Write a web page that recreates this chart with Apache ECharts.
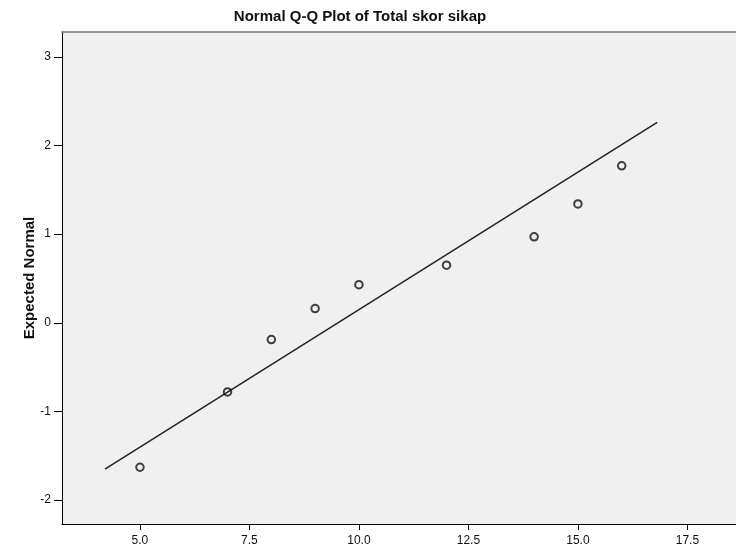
<!DOCTYPE html>
<html>
<head>
<meta charset="utf-8">
<script src="https://cdn.jsdelivr.net/npm/echarts@6/dist/echarts.min.js"></script>
<style>html,body{margin:0;padding:0;background:#fff;}#c{width:736px;height:551px;}</style>
</head>
<body>
<div id="c"></div>
<script>
const chartTitle = 'Normal Q-Q Plot of Total skor sikap';
const yAxisName = 'Expected Normal';
const observedValues = [5, 7, 8, 9, 10, 12, 14, 15, 16];
const expectedNormal = [-1.63, -0.78, -0.19, 0.16, 0.43, 0.65, 0.97, 1.34, 1.77];
const refLineX = [4.2, 16.81];
const refLineY = [-1.65, 2.26];
const xTicks = [5, 7.5, 10, 12.5, 15, 17.5];
const yTicks = [-2, -1, 0, 1, 2, 3];

const chart = echarts.init(document.getElementById('c'));
const font = 'Arial, "Liberation Sans", sans-serif';
const xMin = 3.22, xMax = 18.61;
chart.setOption({
  backgroundColor: '#fff',
  animation: false,
  title: {
    text: chartTitle,
    left: 355, textAlign: 'center', top: 4,
    textStyle: { fontFamily: font, fontSize: 15, fontWeight: 'bold', color: '#111' }
  },
  grid: {
    left: 62, right: 0, top: 32, bottom: 27,
    show: true, backgroundColor: '#f0f0f0', borderWidth: 0
  },
  xAxis: [{
    type: 'value', min: xMin, max: xMax, position: 'bottom',
    axisLine: { show: true, onZero: false, lineStyle: { color: '#000', width: 1 } },
    axisTick: { show: true, length: 6, customValues: xTicks, lineStyle: { color: '#000' } },
    axisLabel: { customValues: xTicks, margin: 11, fontFamily: font, fontSize: 12, color: '#111',
      formatter: v => Number(v).toFixed(1) },
    splitLine: { show: false }
  }, {
    type: 'value', min: xMin, max: xMax, position: 'top',
    axisLine: { show: true, onZero: false, lineStyle: { color: '#777', width: 1.5 } },
    axisTick: { show: false }, axisLabel: { show: false }, splitLine: { show: false }
  }],
  yAxis: {
    type: 'value', min: -2.27, max: 3.28,
    name: yAxisName, nameLocation: 'middle', nameGap: 25, nameRotate: 90,
    nameMoveOverlap: false,
    nameTextStyle: { fontFamily: font, fontSize: 15, fontWeight: 'bold', color: '#111' },
    axisLine: { show: true, onZero: false, lineStyle: { color: '#000', width: 1 } },
    axisTick: { show: true, length: 8, customValues: yTicks, lineStyle: { color: '#000' } },
    axisLabel: { customValues: yTicks, margin: 11, fontFamily: font, fontSize: 12, color: '#111' },
    splitLine: { show: false }
  },
  series: [
    {
      type: 'line',
      data: refLineX.map((x, i) => [x, refLineY[i]]),
      symbol: 'none',
      lineStyle: { color: '#222', width: 1.5 },
      z: 2
    },
    {
      type: 'scatter',
      data: observedValues.map((x, i) => [x, expectedNormal[i]]),
      symbol: 'circle', symbolSize: 7.5,
      itemStyle: { color: 'rgba(0,0,0,0)', borderColor: '#111', borderWidth: 2 },
      z: 3
    }
  ]
});
</script>
</body>
</html>
